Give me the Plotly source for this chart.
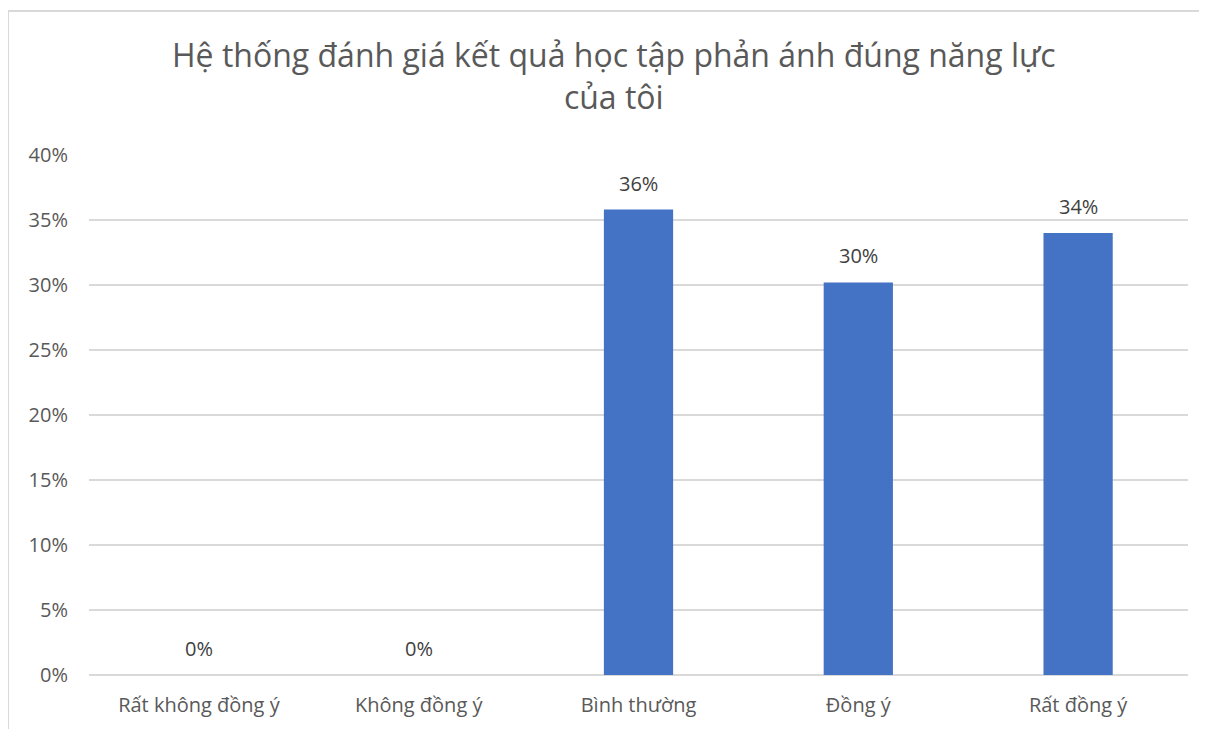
import plotly.graph_objects as go

categories = ["Rất không đồng ý", "Không đồng ý", "Bình thường", "Đồng ý", "Rất đồng ý"]
values = [0.0, 0.0, 0.358, 0.302, 0.34]
labels = ["0%", "0%", "36%", "30%", "34%"]
tick_vals = [0, 0.05, 0.10, 0.15, 0.20, 0.25, 0.30, 0.35, 0.40]
tick_text = ["0%", "5%", "10%", "15%", "20%", "25%", "30%", "35%", "40%"]
title_text = "Hệ thống đánh giá kết quả học tập phản ánh đúng năng lực<br>của tôi"

FONT = "Open Sans"
GREY = "#595959"

fig = go.Figure()
fig.add_trace(go.Bar(
    x=categories, y=values,
    marker=dict(color="#4472C4", line=dict(width=0)),
    hoverinfo="skip",
))

annotations = []
for c, v, t in zip(categories, values, labels):
    annotations.append(dict(
        x=c, y=v, xref="x", yref="y", text=t, showarrow=False,
        yanchor="bottom", yshift=11,
        font=dict(family=FONT, size=20, color="#404040"),
    ))
annotations.append(dict(
    x=0.478, y=1.152, xref="paper", yref="paper", text=title_text,
    showarrow=False, xanchor="center", yanchor="middle",
    font=dict(family=FONT, size=32, color=GREY),
))

fig.update_layout(
    width=1199, height=721,
    margin=dict(l=81, r=19, t=147, b=54),
    paper_bgcolor="white", plot_bgcolor="white",
    bargap=0.685,
    showlegend=False,
    annotations=annotations,
    xaxis=dict(
        showgrid=False, showline=False, zeroline=False,
        tickfont=dict(family=FONT, size=20, color=GREY),
        ticks="", ticklabelstandoff=16,
    ),
    yaxis=dict(
        range=[0, 0.40],
        tickvals=tick_vals, ticktext=tick_text,
        showgrid=True, gridcolor="#d9d9d9", gridwidth=1.5,
        zeroline=True, zerolinecolor="#d9d9d9", zerolinewidth=1.5,
        showline=False, ticks="",
        tickfont=dict(family=FONT, size=20, color=GREY),
        ticklabelstandoff=20,
    ),
    shapes=[dict(
        type="rect", xref="paper", yref="paper",
        x0=-0.0737, x1=1.04, y0=-0.2, y1=1.277,
        line=dict(color="#d9d9d9", width=2), fillcolor="rgba(0,0,0,0)",
        layer="below",
    )],
)

fig.write_html("out.html")
